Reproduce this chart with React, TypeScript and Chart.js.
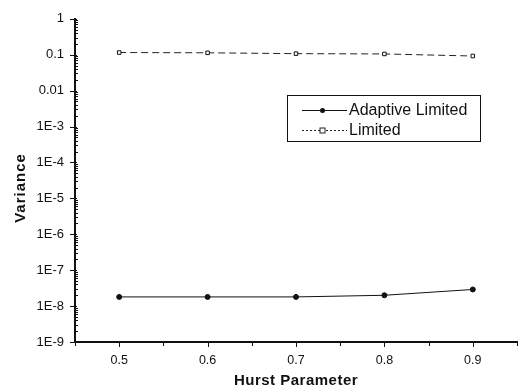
import React, { useEffect, useRef } from "react";
import { Chart, registerables } from "chart.js";

Chart.register(...registerables);

const hurst = [0.5, 0.6, 0.7, 0.8, 0.9];
const adaptiveLimited = [1.8e-8, 1.8e-8, 1.8e-8, 2.0e-8, 2.9e-8];
const limited = [0.115, 0.113, 0.107, 0.105, 0.092];
const seriesNames = ["Adaptive Limited", "Limited"];
const xMajorTicks = [0.5, 0.6, 0.7, 0.8, 0.9];
const xMinorTicks = [0.45, 0.55, 0.65, 0.75, 0.85, 0.95];
const yDecadeExps = [0, -1, -2, -3, -4, -5, -6, -7, -8, -9];
const xTitle = "Hurst Parameter";
const yTitle = "Variance";

const FONT = "'Liberation Sans', Arial, sans-serif";

function yLabel(v: number): string {
  const e = Math.round(Math.log10(v));
  if (e === 0) return "1";
  if (e === -1) return "0.1";
  if (e === -2) return "0.01";
  return "1E" + e;
}

const decorPlugin = {
  id: "decor",
  afterDraw(chart: any) {
    const ctx = chart.ctx;
    const xs = chart.scales.x;
    const ys = chart.scales.y;
    const area = chart.chartArea;
    ctx.save();
    ctx.strokeStyle = "#111";
    ctx.lineWidth = 1;
    // y ticks
    for (const e of yDecadeExps) {
      const py = Math.round(ys.getPixelForValue(Math.pow(10, e))) + 0.5;
      ctx.beginPath();
      ctx.moveTo(area.left - 5, py);
      ctx.lineTo(area.left + 2, py);
      ctx.stroke();
      if (e > -9) {
        for (let m = 2; m <= 9; m++) {
          const v = m * Math.pow(10, e - 1);
          const pm = Math.round(ys.getPixelForValue(v)) + 0.5;
          ctx.beginPath();
          ctx.moveTo(area.left, pm);
          ctx.lineTo(area.left + 3, pm);
          ctx.stroke();
        }
      }
    }
    // x ticks
    for (const t of xMajorTicks) {
      const px = Math.round(xs.getPixelForValue(t)) + 0.5;
      ctx.beginPath();
      ctx.moveTo(px, area.bottom);
      ctx.lineTo(px, area.bottom + 5);
      ctx.stroke();
    }
    for (const t of xMinorTicks) {
      const px = Math.round(xs.getPixelForValue(t)) + 0.5;
      ctx.beginPath();
      ctx.moveTo(px, area.bottom);
      ctx.lineTo(px, area.bottom + 4);
      ctx.stroke();
    }
    // axis titles
    ctx.fillStyle = "#111";
    ctx.font = "bold 15px " + FONT;
    ctx.textAlign = "center";
    ctx.textBaseline = "middle";
    (ctx as any).letterSpacing = "0.5px";
    ctx.fillText(xTitle, (area.left + area.right) / 2, 381);
    (ctx as any).letterSpacing = "1px";
    ctx.save();
    ctx.translate(21, 188);
    ctx.rotate(-Math.PI / 2);
    ctx.fillText(yTitle, 0, 0);
    ctx.restore();
    (ctx as any).letterSpacing = "0px";

    // legend
    const bx = 287, by = 95, bw = 193, bh = 46;
    ctx.lineWidth = 1;
    ctx.strokeStyle = "#111";
    ctx.strokeRect(bx + 0.5, by + 0.5, bw, bh);
    const rows = [by + 15, by + 35];
    ctx.font = "16px " + FONT;
    ctx.textAlign = "left";
    ctx.textBaseline = "middle";
    chart.data.datasets.forEach((ds: any, i: number) => {
      const ry = rows[i] + 0.5;
      ctx.save();
      ctx.strokeStyle = ds.borderColor;
      ctx.lineWidth = 1;
      ctx.setLineDash(i === 0 ? [] : [2, 2]);
      ctx.beginPath();
      ctx.moveTo(bx + 15, ry);
      ctx.lineTo(bx + 60, ry);
      ctx.stroke();
      ctx.setLineDash([]);
      if (i === 0) {
        ctx.fillStyle = "#111";
        ctx.beginPath();
        ctx.arc(bx + 35.5, ry, 2.5, 0, Math.PI * 2);
        ctx.fill();
      } else {
        ctx.fillStyle = "#fff";
        ctx.fillRect(bx + 33, ry - 2.5, 5, 5);
        ctx.strokeRect(bx + 33, ry - 2.5, 5, 5);
      }
      ctx.restore();
      ctx.fillStyle = "#111";
      ctx.fillText(ds.label, bx + 62, rows[i] + 1);
    });
    ctx.restore();
  },
};

export default function App() {
  const ref = useRef<HTMLCanvasElement | null>(null);
  useEffect(() => {
    document.body.style.margin = "0";
    const canvas = ref.current!;
    const chart = new Chart(canvas, {
      type: "line",
      data: {
        datasets: [
          {
            label: seriesNames[0],
            data: hurst.map((x, i) => ({ x, y: adaptiveLimited[i] })),
            borderColor: "#111",
            backgroundColor: "#111",
            borderWidth: 1,
            pointRadius: 2.5,
            pointStyle: "circle",
            pointBackgroundColor: "#111",
            pointBorderColor: "#111",
            tension: 0,
          },
          {
            label: seriesNames[1],
            data: hurst.map((x, i) => ({ x, y: limited[i] })),
            borderColor: "#222",
            backgroundColor: "#fff",
            borderWidth: 1,
            borderDash: [7, 4],
            pointRadius: 2.5,
            pointStyle: "rect",
            pointBackgroundColor: "#fff",
            pointBorderColor: "#111",
            pointBorderWidth: 1,
            tension: 0,
          },
        ],
      },
      options: {
        animation: false,
        responsive: false,
        maintainAspectRatio: false,
        layout: { padding: { top: 17, right: 1, left: 0, bottom: 0 } },
        plugins: {
          legend: { display: false },
          tooltip: { enabled: false },
          title: { display: false },
        },
        scales: {
          x: {
            type: "linear",
            min: 0.45,
            max: 0.95,
            afterBuildTicks: (s: any) => {
              s.ticks = xMajorTicks.map((v) => ({ value: v }));
            },
            afterFit: (s: any) => {
              s.height = 49;
            },
            grid: { display: false, drawTicks: false },
            border: { display: true, color: "#111", width: 2 },
            ticks: {
              color: "#111",
              font: { family: FONT, size: 12.5 },
              padding: 11,
              maxRotation: 0,
              autoSkip: false,
              callback: (v: any) => Number(v).toFixed(1),
            },
          },
          y: {
            type: "logarithmic",
            min: 1e-9,
            max: 1,
            afterBuildTicks: (s: any) => {
              s.ticks = yDecadeExps.map((e) => ({ value: Math.pow(10, e) }));
            },
            afterFit: (s: any) => {
              s.width = 75;
            },
            grid: { display: false, drawTicks: false },
            border: { display: true, color: "#111", width: 2 },
            ticks: {
              color: "#111",
              font: { family: FONT, size: 13 },
              padding: 11,
              autoSkip: false,
              callback: (v: any) => yLabel(Number(v)),
            },
          },
        },
      },
      plugins: [decorPlugin],
    } as any);
    return () => chart.destroy();
  }, []);
  return <canvas ref={ref} width={522} height={391} style={{ display: "block" }} />;
}
